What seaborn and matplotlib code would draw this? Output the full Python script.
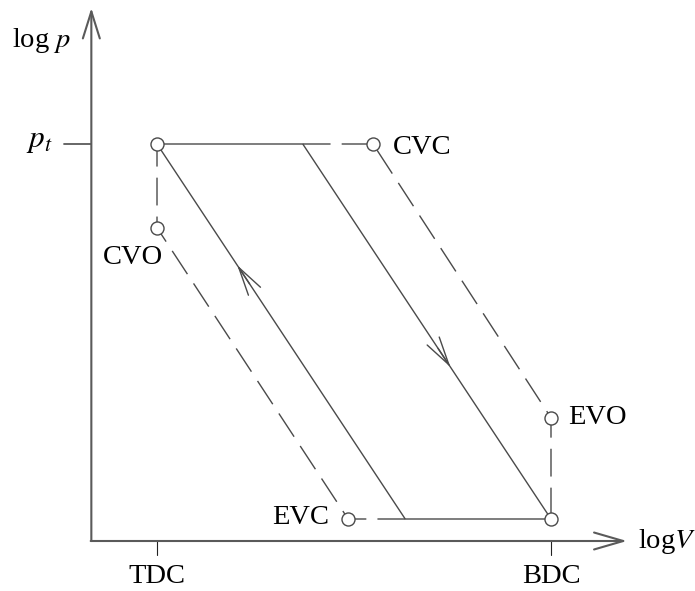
import matplotlib
matplotlib.use("Agg")
import matplotlib.pyplot as plt
import seaborn as sns

sns.set_theme(style="white")
plt.rcParams["font.family"] = ["Liberation Serif", "DejaVu Serif"]
plt.rcParams["mathtext.fontset"] = "stix"
plt.rcParams["lines.scale_dashes"] = False

# Valve-timing state points (log V, log p in arbitrary units)
state_names = ["CVO", "CVC", "EVO", "EVC"]
state_logV = [1.0, 4.29, 7.0, 3.91]
state_logp = [4.66, 6.0, 1.62, 0.0]

# Dead centres on the volume axis and the two pressure levels
dc_names = ["TDC", "BDC"]
dc_logV = [1.0, 7.0]
p_top = 6.0
p_bottom = 0.0

# Ideal cycle (solid)
cycle_logV = [1.0, 3.22, 7.0, 4.78, 1.0]
cycle_logp = [6.0, 6.0, 0.0, 0.0, 6.0]

# Valve-timed paths (dashed)
valve_a_logV = [3.22, 4.29, 7.0, 7.0]
valve_a_logp = [6.0, 6.0, 1.62, 0.0]
valve_b_logV = [4.78, 3.91, 1.0, 1.0]
valve_b_logp = [0.0, 0.0, 4.66, 6.0]

LINE = "#4a4a4a"
AXIS = "#5a5a5a"
FS = 20.5

fig = plt.figure(figsize=(6.95, 5.91), dpi=100)
ax = fig.add_axes([0, 0, 1, 1])
ax.set_xlim(-1.391, 9.193)
ax.set_ylim(-1.152, 8.304)
ax.set_axis_off()

ax0_x, ax0_y = 0.0, -0.352      # axis origin
x_end, y_end = 8.157, 8.176     # axis arrow tips

# axes with open arrowheads
ax.annotate("", xy=(ax0_x, y_end), xytext=(ax0_x, ax0_y),
            arrowprops=dict(arrowstyle="->,head_length=19.4,head_width=6.1",
                            mutation_scale=1, lw=1.5, color=AXIS,
                            shrinkA=0, shrinkB=0))
ax.annotate("", xy=(x_end, ax0_y), xytext=(ax0_x - 0.01, ax0_y),
            arrowprops=dict(arrowstyle="->,head_length=21,head_width=6.1",
                            mutation_scale=1, lw=1.5, color=AXIS,
                            shrinkA=0, shrinkB=0))

# p_t tick and dead-centre ticks
ax.plot([ax0_x - 0.41, ax0_x], [p_top, p_top], color=AXIS, lw=1.3)
for v in dc_logV:
    ax.plot([v, v], [ax0_y, ax0_y - 0.224], color="#222222", lw=0.8)

# ideal cycle and valve-timed paths
sns.lineplot(x=cycle_logV, y=cycle_logp, sort=False, estimator=None,
             color=LINE, lw=1.0, ax=ax)
for vx, vy in [(valve_a_logV, valve_a_logp), (valve_b_logV, valve_b_logp)]:
    sns.lineplot(x=vx, y=vy, sort=False, estimator=None, color=LINE,
                 lw=1.0, linestyle=(0, (20, 8)), ax=ax)

# direction arrows on the two diagonal strokes
def mid_arrow(p0, p1, frac):
    tip = (p0[0] + frac * (p1[0] - p0[0]), p0[1] + frac * (p1[1] - p0[1]))
    tail = (p0[0] + (frac - 0.05) * (p1[0] - p0[0]),
            p0[1] + (frac - 0.05) * (p1[1] - p0[1]))
    ax.annotate("", xy=tip, xytext=tail,
                arrowprops=dict(arrowstyle="->,head_length=20.5,head_width=5.2",
                                mutation_scale=1, lw=1.0, color=LINE,
                                shrinkA=0, shrinkB=0))

mid_arrow((cycle_logV[1], cycle_logp[1]), (cycle_logV[2], cycle_logp[2]), 0.595)
mid_arrow((cycle_logV[3], cycle_logp[3]), (cycle_logV[4], cycle_logp[4]), 0.677)

# state circles
circ_V = state_logV + dc_logV
circ_p = state_logp + [p_top, p_bottom]
sns.scatterplot(x=circ_V, y=circ_p, s=88, color="white", edgecolor=LINE,
                linewidth=1.0, zorder=5, ax=ax)

# labels
offsets = {"CVO": ((-17.3, -21.6), "center"),
           "CVC": ((14.4, -2.2), "left"),
           "EVO": ((12.2, 0.0), "left"),
           "EVC": ((-13.7, 1.4), "right")}
for name, v, p in zip(state_names, state_logV, state_logp):
    off, ha = offsets[name]
    ax.annotate(name, xy=(v, p), xytext=off, textcoords="offset points",
                ha=ha, va="center", fontsize=FS, color="black")

for name, v in zip(dc_names, dc_logV):
    ax.annotate(name, xy=(v, ax0_y), xytext=(0, -25.9), textcoords="offset points",
                ha="center", va="center", fontsize=FS, color="black")

ax.annotate(r"$p_t$", xy=(ax0_x, p_top), xytext=(-28, 2.2), textcoords="offset points",
            ha="right", va="center", fontsize=FS + 2, color="black")
ax.annotate(r"log $p$", xy=(ax0_x, y_end), xytext=(-14.4, -28), textcoords="offset points",
            ha="right", va="baseline", fontsize=FS, color="black")
ax.annotate(r"log$V$", xy=(x_end, ax0_y), xytext=(7.9, 0), textcoords="offset points",
            ha="left", va="center", fontsize=FS, color="black")

fig.savefig("out.png", dpi=100, facecolor="white")
